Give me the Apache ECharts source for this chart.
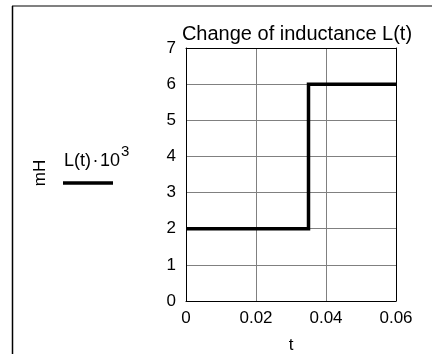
<!DOCTYPE html>
<html><head><meta charset="utf-8">
<script src="https://cdn.jsdelivr.net/npm/echarts@6/dist/echarts.min.js"></script>
<style>html,body{margin:0;padding:0;background:#fff}#c{width:432px;height:354px}</style>
</head><body><div id="c"></div>
<script>
const tValues = [0, 0.035, 0.035, 0.06];
const lValues = [2, 2, 6, 6];
const xTicks = [0, 0.02, 0.04, 0.06];
const yTicks = [0, 1, 2, 3, 4, 5, 6, 7];
const titleText = 'Change of inductance L(t)';
const legendText = 'L(t)\u200a·\u200a10';
const unitText = 'mH';
const xName = 't';

const font = 'Liberation Sans, Arial, sans-serif';
const chart = echarts.init(document.getElementById('c'), null, {renderer: 'canvas'});
const grid = {left: 186, right: 36, top: 48, bottom: 53, containLabel: false, outerBoundsMode: 'none'};
chart.setOption({
  animation: false,
  backgroundColor: '#fff',
  title: {text: titleText, left: 292, top: 19, textAlign: 'center',
    textStyle: {fontFamily: font, fontSize: 20, fontWeight: 'normal', color: '#000'}},
  grid: grid,
  xAxis: [{
    type: 'value', min: xTicks[0], max: xTicks[xTicks.length-1], interval: 0.02,
    name: xName, nameLocation: 'middle', nameGap: 36,
    nameTextStyle: {fontFamily: font, fontSize: 17, color: '#000'},
    axisLine: {show: true, lineStyle: {color: '#000', width: 1}},
    axisTick: {show: false},
    axisLabel: {fontFamily: font, fontSize: 17, color: '#000', margin: 9,
      formatter: v => (Math.abs(v) < 1e-12 ? '0' : String(+v.toFixed(2)))},
    splitLine: {show: true, lineStyle: {color: '#808080', width: 1}}
  }, {
    type: 'value', position: 'top', min: xTicks[0], max: xTicks[xTicks.length-1],
    axisLine: {show: true, onZero: false, lineStyle: {color: '#000', width: 1}},
    axisTick: {show: false}, axisLabel: {show: false}, splitLine: {show: false}
  }],
  yAxis: [{
    type: 'value', min: yTicks[0], max: yTicks[yTicks.length-1], interval: 1,
    axisLine: {show: true, lineStyle: {color: '#000', width: 1}},
    axisTick: {show: false},
    axisLabel: {fontFamily: font, fontSize: 17, color: '#000', margin: 10},
    splitLine: {show: true, lineStyle: {color: '#808080', width: 1}}
  }, {
    type: 'value', position: 'right', min: yTicks[0], max: yTicks[yTicks.length-1],
    axisLine: {show: true, onZero: false, lineStyle: {color: '#000', width: 1}},
    axisTick: {show: false}, axisLabel: {show: false}, splitLine: {show: false}
  }],
  series: [{
    type: 'line', xAxisIndex: 0, yAxisIndex: 0,
    data: tValues.map((t, i) => [t, lValues[i]]),
    showSymbol: false, symbol: 'none',
    lineStyle: {color: '#000', width: 3.5, join: 'miter'},
    z: 5
  }],
  graphic: [
    {type: 'line', shape: {x1: 12, y1: 6, x2: 432, y2: 6}, style: {stroke: '#808080', lineWidth: 2}},
    {type: 'line', shape: {x1: 12.5, y1: 6, x2: 12.5, y2: 354}, style: {stroke: '#000', lineWidth: 1.5}},
    {type: 'text', x: 40, y: 173, rotation: Math.PI/2,
      style: {text: unitText, font: '17px ' + font, fill: '#000', textAlign: 'center', textVerticalAlign: 'middle'}},
    {type: 'text', x: 64, y: 144,
      style: {text: '{a|' + legendText + '}{s|3}', rich: {
        a: {font: '18px ' + font, fill: '#000', verticalAlign: 'bottom', lineHeight: 26},
        s: {font: '15px ' + font, fill: '#000', verticalAlign: 'top', lineHeight: 15, padding: [0,0,0,1]}
      }}},
    {type: 'line', shape: {x1: 63, y1: 183, x2: 113, y2: 183}, style: {stroke: '#000', lineWidth: 3.5}}
  ]
});
</script></body></html>
